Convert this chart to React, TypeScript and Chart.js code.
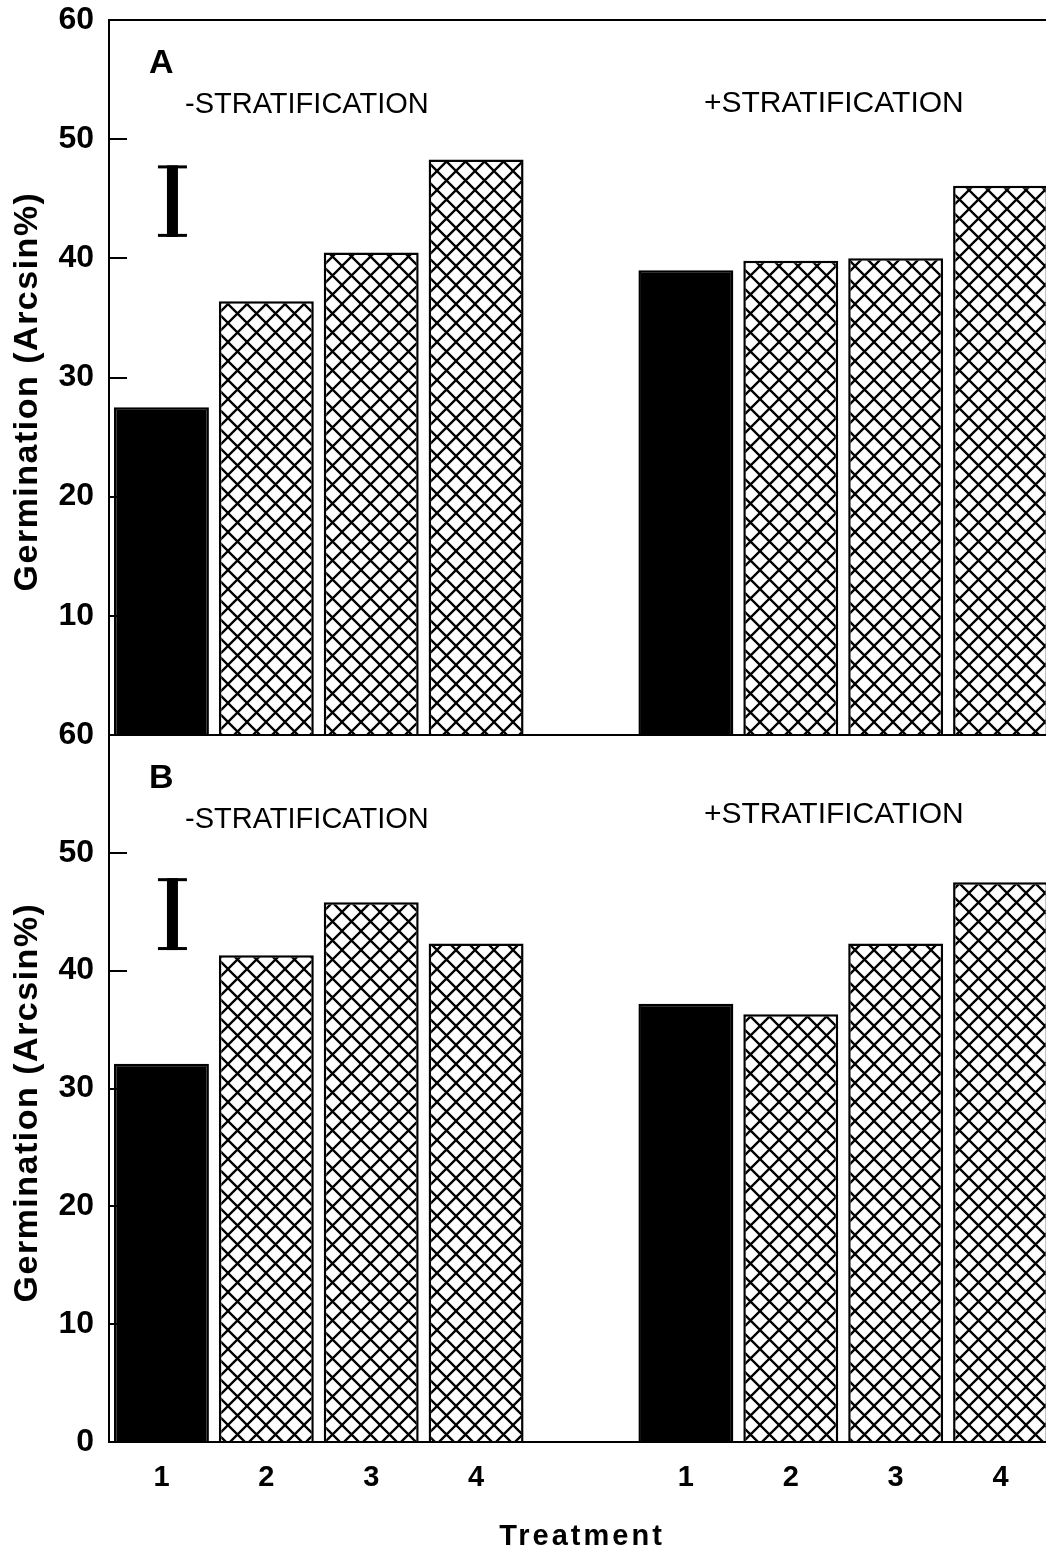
import React, { useEffect, useRef } from 'react';
import { Chart, registerables } from 'chart.js';
Chart.register(...registerables);

// ---- data ----
const categories = ['1', '2', '3', '4', '', '1', '2', '3', '4'];
const panelA = [27.5, 36.4, 40.5, 48.3, null, 39.0, 39.8, 40.0, 46.1];
const panelB = [32.1, 41.3, 45.8, 42.3, null, 37.2, 36.3, 42.3, 47.5];
const barKind = ['solid', 'hatch', 'hatch', 'hatch', 'none', 'solid', 'hatch', 'hatch', 'hatch'];
const yTickValues = [0, 10, 20, 30, 40, 50, 60];
const panelLetters = ['A', 'B'];
const groupLabels = ['-STRATIFICATION', '+STRATIFICATION'];
const lsdCenter = [44.8, 44.8];
const lsdLength = [6.0, 6.1];
const yTitle = 'Germination (Arcsin%)';
const xTitle = 'Treatment';

const FONT = '"Liberation Sans", Arial, Helvetica, sans-serif';

function makeHatch(ctx: CanvasRenderingContext2D) {
  const s = 19;
  const c = document.createElement('canvas');
  c.width = s;
  c.height = s;
  const g = c.getContext('2d')!;
  g.fillStyle = '#fff';
  g.fillRect(0, 0, s, s);
  g.strokeStyle = '#000';
  g.lineWidth = 2.3;
  g.beginPath();
  g.moveTo(-3, -3);
  g.lineTo(s + 3, s + 3);
  g.moveTo(s + 3, -3);
  g.lineTo(-3, s + 3);
  g.stroke();
  return ctx.createPattern(c, 'repeat')!;
}

const overlay = {
  id: 'overlay',
  afterDatasetsDraw(chart: any) {
    const ctx: CanvasRenderingContext2D = chart.ctx;
    const area = chart.chartArea;
    const xs = chart.scales.x;
    const panels = [chart.scales.yA, chart.scales.yB];
    ctx.save();
    ctx.strokeStyle = '#000';
    ctx.fillStyle = '#000';
    ctx.lineWidth = 2;
    // frame lines
    ctx.beginPath();
    ctx.moveTo(area.left, panels[0].top);
    ctx.lineTo(chart.width, panels[0].top);
    ctx.moveTo(area.left, panels[0].bottom);
    ctx.lineTo(chart.width, panels[0].bottom);
    ctx.moveTo(area.left, panels[1].bottom);
    ctx.lineTo(chart.width, panels[1].bottom);
    ctx.moveTo(area.left, panels[0].top - 1);
    ctx.lineTo(area.left, panels[1].bottom + 1);
    ctx.stroke();
    panels.forEach((sc: any, i: number) => {
      // inside tick marks
      ctx.beginPath();
      yTickValues.forEach((v) => {
        if (v === 0 || v === 60) return;
        const y = Math.round(sc.getPixelForValue(v));
        ctx.moveTo(area.left, y);
        ctx.lineTo(area.left + 18, y);
      });
      ctx.lineWidth = 2;
      ctx.stroke();
      // panel letter
      ctx.textBaseline = 'middle';
      ctx.textAlign = 'left';
      ctx.font = `bold 34px ${FONT}`;
      ctx.fillText(panelLetters[i], 149, sc.top + 44);
      // group labels
      ctx.font = `29px ${FONT}`;
      ctx.fillText(groupLabels[0], 185, sc.top + 85);
      ctx.font = `30px ${FONT}`;
      ctx.fillText(groupLabels[1], 704, sc.top + 84 - i * 4);
      // LSD bar
      const cx = xs.getPixelForValue(0) + 11;
      const yt = sc.getPixelForValue(lsdCenter[i] + lsdLength[i] / 2);
      const yb = sc.getPixelForValue(lsdCenter[i] - lsdLength[i] / 2);
      ctx.fillRect(cx - 5.5, yt, 11, yb - yt);
      ctx.fillRect(cx - 14.5, yt, 29, 3);
      ctx.fillRect(cx - 14.5, yb - 3, 29, 3);
      // y title
      ctx.save();
      ctx.translate(28, (sc.top + sc.bottom) / 2 + 14);
      ctx.rotate(-Math.PI / 2);
      ctx.textAlign = 'center';
      ctx.textBaseline = 'middle';
      ctx.font = `bold 34px ${FONT}`;
      (ctx as any).letterSpacing = '1.5px';
      ctx.fillText(yTitle, 0, 0);
      ctx.restore();
    });
    // x title
    ctx.textAlign = 'center';
    ctx.textBaseline = 'middle';
    ctx.font = `bold 29px ${FONT}`;
    (ctx as any).letterSpacing = '3px';
    ctx.fillText(xTitle, 582, 1537);
    ctx.restore();
  },
};

export default function App() {
  const ref = useRef<HTMLCanvasElement>(null);
  useEffect(() => {
    const canvas = ref.current!;
    const ctx = canvas.getContext('2d')!;
    const hatch = makeHatch(ctx);
    const bg = barKind.map((k) => (k === 'solid' ? '#000' : k === 'hatch' ? hatch : 'rgba(0,0,0,0)'));
    const common = {
      backgroundColor: bg,
      borderColor: '#000',
      borderWidth: 2.5,
      grouped: false,
      barPercentage: 0.905,
      categoryPercentage: 1,
    };
    const yScale = (weight: number, hideZero: boolean) => ({
      type: 'linear',
      position: 'left',
      stack: 'panels',
      stackWeight: weight,
      min: 0,
      max: 60,
      afterFit: (s: any) => {
        s.width = 109;
        s.paddingTop = 0;
        s.paddingBottom = 0;
      },
      ticks: {
        stepSize: 10,
        color: '#000',
        padding: 15,
        font: { family: FONT, size: 32, weight: 'bold' },
        callback: (v: any) => (hideZero && v === 0 ? '' : String(v)),
      },
      grid: { display: false, drawTicks: false },
      border: { display: false },
    });
    const chart = new Chart(canvas, {
      type: 'bar',
      data: {
        labels: categories,
        datasets: [
          { label: 'A', data: panelA, yAxisID: 'yA', ...common } as any,
          { label: 'B', data: panelB, yAxisID: 'yB', ...common } as any,
        ],
      },
      options: {
        responsive: false,
        animation: false,
        devicePixelRatio: 1,
        layout: { padding: { top: 20, right: 7, left: 0, bottom: 0 } },
        plugins: { legend: { display: false }, tooltip: { enabled: false } },
        scales: {
          x: {
            type: 'category',
            afterFit: (s: any) => {
              s.height = 112;
              s.paddingLeft = 0;
              s.paddingRight = 0;
            },
            ticks: {
              color: '#000',
              padding: 19,
              autoSkip: false,
              maxRotation: 0,
              font: { family: FONT, size: 29, weight: 'bold' },
            },
            grid: { display: false, drawTicks: false },
            border: { display: false },
          },
          yB: yScale(707, false),
          yA: yScale(715, true),
        } as any,
      },
      plugins: [overlay],
    });
    return () => chart.destroy();
  }, []);
  return (
    <div style={{ position: 'absolute', left: 0, top: 0, width: 1046, height: 1554, overflow: 'hidden', background: '#fff' }}>
      <canvas ref={ref} width={1060} height={1554} style={{ width: 1060, height: 1554, display: 'block' }} />
    </div>
  );
}
